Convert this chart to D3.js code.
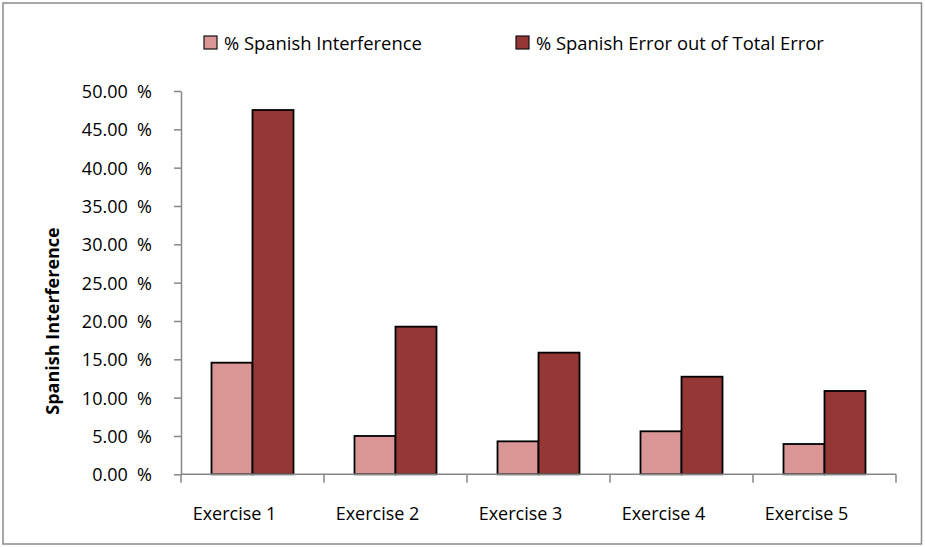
<!DOCTYPE html>
<html>
<head>
<meta charset="utf-8">
<script src="https://cdn.jsdelivr.net/npm/d3@7/dist/d3.min.js"></script>
<style>
  html, body { margin: 0; padding: 0; background: #fff; }
  svg { display: block; font-family: "Open Sans", "DejaVu Sans", sans-serif; }
</style>
</head>
<body>
<svg id="chart" width="925" height="547"></svg>
<script>
// Categories and series values (percent)
const categories = ["Exercise 1", "Exercise 2", "Exercise 3", "Exercise 4", "Exercise 5"];
const seriesNames = ["% Spanish Interference", "% Spanish Error out of Total Error"];
const interference = [14.56, 5.00, 4.30, 5.61, 3.95];
const errorShare = [47.52, 19.26, 15.87, 12.73, 10.87];
const yTicks = [0, 5, 10, 15, 20, 25, 30, 35, 40, 45, 50];
const seriesColors = ["#D99694", "#953735"];

const seriesValues = [interference, errorShare];
const rows = categories.map((c, i) => ({
  category: c,
  values: seriesNames.map((s, k) => ({ series: s, value: seriesValues[k][i], k }))
}));

const svg = d3.select("#chart");
const axisColor = "#868686";

// Outer frame
svg.append("rect")
  .attr("x", 3).attr("y", 3).attr("width", 918.5).attr("height", 541)
  .attr("fill", "#fff").attr("stroke", "#898989").attr("stroke-width", 1.5);

const plot = { left: 181, right: 896, top: 91, bottom: 474.3 };

const x = d3.scaleBand().domain(categories).range([plot.left, plot.right]).paddingInner(0).paddingOuter(0);
const x1 = d3.scaleBand().domain(seriesNames).range([0, x.bandwidth()]).paddingInner(0).paddingOuter(0.744);
const y = d3.scaleLinear().domain([0, 50]).range([plot.bottom, plot.top]);

// Y axis (number and percent sign separated by a wide gap)
const yAxis = svg.append("g")
  .attr("transform", `translate(${plot.left},0)`)
  .call(d3.axisLeft(y).tickValues(yTicks).tickSize(7).tickSizeOuter(0).tickPadding(22)
    .tickFormat(d => d.toFixed(2) + "\u00A0\u00A0%"));
yAxis.selectAll("path, line").attr("stroke", axisColor).attr("stroke-width", 1.5);
yAxis.selectAll("text").attr("font-size", 18).attr("fill", "#000")
  .attr("font-family", "'Open Sans', sans-serif").attr("dy", "0.36em");

// Bars
const groups = svg.append("g").selectAll("g")
  .data(rows).join("g")
  .attr("transform", d => `translate(${x(d.category)},0)`);
groups.selectAll("rect")
  .data(d => d.values).join("rect")
  .attr("x", d => x1(d.series))
  .attr("width", x1.bandwidth())
  .attr("y", d => y(d.value))
  .attr("height", d => y(0) - y(d.value))
  .attr("fill", d => seriesColors[d.k])
  .attr("stroke", "#000").attr("stroke-width", 1.8);

// X axis line with boundary ticks
const xAxis = svg.append("g");
xAxis.append("line")
  .attr("x1", plot.left).attr("x2", plot.right)
  .attr("y1", y(0)).attr("y2", y(0))
  .attr("stroke", axisColor).attr("stroke-width", 1.5);
const boundaries = categories.map(c => x(c)).concat([x(categories[categories.length - 1]) + x.bandwidth()]);
xAxis.selectAll("line.tick").data(boundaries).join("line")
  .attr("class", "tick")
  .attr("x1", d => d).attr("x2", d => d)
  .attr("y1", y(0)).attr("y2", y(0) + 8.5)
  .attr("stroke", axisColor).attr("stroke-width", 1.5);
xAxis.selectAll("text").data(categories).join("text")
  .attr("x", d => x(d) + x.bandwidth() / 2 - 18)
  .attr("y", 520)
  .attr("text-anchor", "middle")
  .attr("font-size", 18)
  .attr("fill", "#000")
  .text(d => d);

// Y axis title
svg.append("text")
  .attr("transform", "translate(59,321) rotate(-90)")
  .attr("text-anchor", "middle")
  .attr("font-size", 18)
  .attr("font-weight", "bold")
  .attr("fill", "#000")
  .text("Spanish Interference");

// Legend
const legendX = [204, 516];
const legend = svg.append("g").selectAll("g")
  .data(seriesNames).join("g")
  .attr("transform", (d, i) => `translate(${legendX[i]},36)`);
legend.append("rect")
  .attr("x", 0).attr("y", 0).attr("width", 13).attr("height", 13)
  .attr("fill", (d, i) => seriesColors[i])
  .attr("stroke", "#111").attr("stroke-width", 1.2);
legend.append("text")
  .attr("x", 20).attr("y", 13.5)
  .attr("font-size", 18.4)
  .attr("fill", "#000")
  .text(d => d);
</script>
</body>
</html>
